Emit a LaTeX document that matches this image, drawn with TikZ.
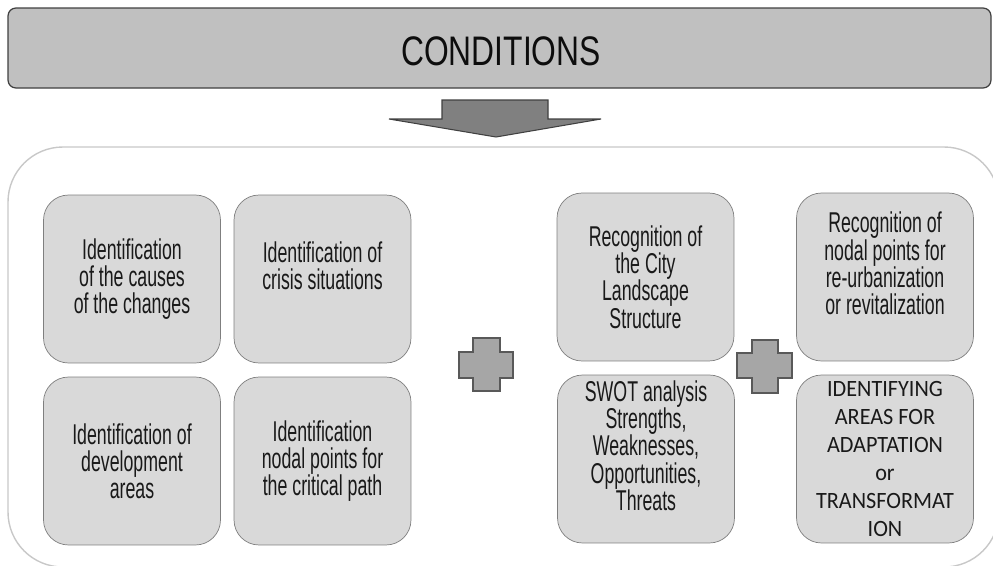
\documentclass[tikz,border=0pt]{standalone}
\usepackage{fontspec}
\setmainfont{Liberation Sans}[FakeStretch=0.62]
\newfontfamily\titlefont{Liberation Sans}[FakeStretch=0.77]
\newfontfamily\capsfont{Carlito}[FakeStretch=0.95]
\usetikzlibrary{positioning}

\definecolor{bannerfill}{HTML}{C0C0C0}
\definecolor{arrowfill}{HTML}{808080}
\definecolor{boxfill}{HTML}{D9D9D9}
\definecolor{boxline}{HTML}{7F7F7F}
\definecolor{plusfill}{HTML}{A6A6A6}
\definecolor{frameline}{HTML}{C8C8C8}

\tikzset{
  cellbox/.style={draw=boxline, fill=boxfill, rounded corners=0.5cm,
    minimum width=3.54cm, minimum height=3.36cm, inner sep=0pt,
    align=center, text=black!90, font=\fontsize{16.3}{15.5}\selectfont},
  capsbox/.style={cellbox, font=\capsfont\fontsize{13.3}{15.9}\selectfont},
  plussign/.style={draw=black!65, fill=plusfill, line width=0.6pt},
}

\begin{document}
\begin{tikzpicture}[x=0.02cm, y=-0.02cm]
  \path[use as bounding box, clip] (0,0) rectangle (993,565);

  % header
  \draw[draw=black!75, fill=bannerfill, line width=0.7pt, rounded corners=0.16cm]
    (8,8) rectangle (991,88);
  \node[font=\titlefont\fontsize{23.5}{26}\selectfont, text=black!95] (conditions) at (501,51) {CONDITIONS};
  \draw[draw=black!75, fill=arrowfill, line width=0.6pt]
    (442,100) -- (548,100) -- (548,119) -- (601,119) -- (496,137)
    -- (389,119) -- (442,119) -- cycle;

  % frame
  \draw[draw=frameline, line width=0.8pt, rounded corners=1.1cm]
    (8,147) rectangle (999,567);

  % left group
  \node[cellbox] (causes) at (132,279) {Identification\\of the causes\\of the changes};
  \node[cellbox] (crisis) at (322.5,279) {Identification of\\crisis situations\\~};
  \node[cellbox] (development) at (132,461) {Identification of\\development\\areas};
  \node[cellbox] (critical) at (322.5,461) {Identification\\nodal points for\\the critical path};

  % right group
  \node[cellbox] (landscape) at (645.5,277) {Recognition of\\the City\\Landscape\\Structure};
  \node[cellbox] (swot) at (646,459) {SWOT analysis\\Strengths,\\Weaknesses,\\Opportunities,\\Threats\\~};
  \node[cellbox] (nodal) at (885,277) {Recognition of\\nodal points for\\re-urbanization\\or revitalization\\~};
  \node[capsbox] (adaptation) at (885,459) {IDENTIFYING\\AREAS FOR\\ADAPTATION\\or\\TRANSFORMAT\\ION};

  % plus signs
  \draw[plussign] (473,338) -- (500,338) -- (500,352) -- (513,352) -- (513,378)
    -- (500,378) -- (500,391) -- (473,391) -- (473,378) -- (459,378)
    -- (459,352) -- (473,352) -- cycle;
  \draw[plussign] (752,340) -- (778,340) -- (778,353) -- (792,353) -- (792,378)
    -- (778,378) -- (778,393) -- (752,393) -- (752,378) -- (737,378)
    -- (737,353) -- (752,353) -- cycle;
\end{tikzpicture}
\end{document}
